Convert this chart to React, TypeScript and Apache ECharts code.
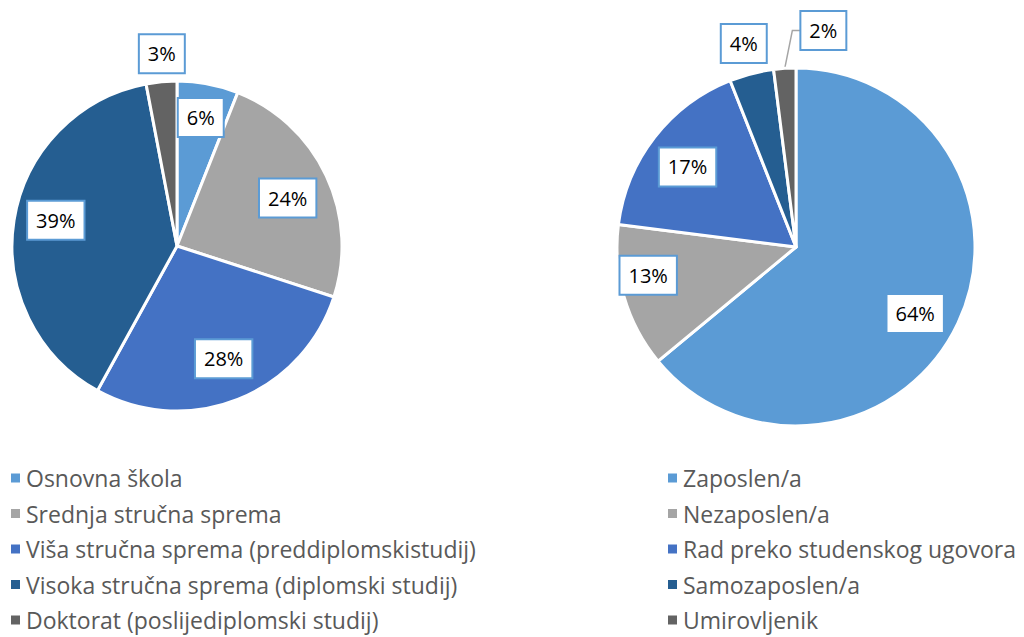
import React, { useEffect, useRef } from "react";
import * as echarts from "echarts";

const leftCategories = [
  "Osnovna škola",
  "Srednja stručna sprema",
  "Viša stručna sprema (preddiplomskistudij)",
  "Visoka stručna sprema (diplomski studij)",
  "Doktorat (poslijediplomski studij)",
];
const leftValues = [6, 24, 28, 39, 3];

const rightCategories = [
  "Zaposlen/a",
  "Nezaposlen/a",
  "Rad preko studenskog ugovora",
  "Samozaposlen/a",
  "Umirovljenik",
];
const rightValues = [64, 13, 17, 4, 2];

const palette = ["#5B9BD5", "#A5A5A5", "#4472C4", "#255E91", "#636363"];
const FONT = "'Open Sans', Lato, sans-serif";

const labelBox = {
  show: true,
  formatter: "{c}%",
  color: "#000",
  fontFamily: FONT,
  fontSize: 20,
  lineHeight: 25,
  backgroundColor: "#fff",
  borderColor: "#5B9BD5",
  borderWidth: 2,
  padding: [6, 8],
};

function visiblePie(names: string[], values: number[], center: number[], r: number) {
  return {
    type: "pie",
    center,
    radius: [0, r],
    startAngle: 90,
    clockwise: true,
    label: { show: false },
    labelLine: { show: false },
    itemStyle: { borderColor: "#fff", borderWidth: 3 },
    data: names.map((n, i) => ({ name: n, value: values[i], itemStyle: { color: palette[i] } })),
  };
}

export default function App() {
  const ref = useRef<HTMLDivElement>(null);
  useEffect(() => {
    if (!ref.current) return;
    const chart = echarts.init(ref.current, undefined, { renderer: "svg" });
    const leftR = 165;
    const rightR = 179;
    const leftLabelData = leftCategories.map((n, i) => {
      const d: any = { name: n, value: leftValues[i] };
      if (i === 4) {
        d.label = { position: "outside" };
        d.labelLine = { show: false, length: 28, length2: 0 };
      }
      return d;
    });
    const rightLabelData = rightCategories.map((n, i) => {
      const d: any = { name: n, value: rightValues[i] };
      if (i === 3) {
        d.label = { position: "outside" };
        d.labelLine = { show: false, length: 31, length2: 0 };
      }
      if (i === 4) {
        d.label = { position: "outside" };
        d.labelLine = { show: true, length: 38, length2: 0, lineStyle: { color: "#A5A5A5", width: 1.5 } };
      }
      return d;
    });
    const overlay = (data: any[], center: number[], r: number, layout: any) => ({
      type: "pie",
      center,
      radius: [r / 2, r],
      startAngle: 90,
      clockwise: true,
      silent: true,
      legendHoverLink: false,
      avoidLabelOverlap: false,
      itemStyle: { color: "rgba(0,0,0,0)", borderWidth: 0 },
      label: { ...labelBox, position: "inside" },
      labelLine: { show: false },
      labelLayout: layout,
      data,
    });
    const leftLayout = (p: any) => {
      if (p.dataIndex === 4) return { align: "center", dx: 8 };
      if (p.dataIndex === 3) return { dx: 4, dy: -6 };
      if (p.dataIndex === 2) return { dy: -5 };
      if (p.dataIndex === 1) return { dx: -4, dy: 6 };
      if (p.dataIndex === 0) return { dy: -4 };
      return {};
    };
    const rightLayout = (p: any) => {
      if (p.dataIndex === 1) return { dx: -16, dy: -10 };
      if (p.dataIndex === 0) return { dx: -5, dy: 8 };
      if (p.dataIndex === 2) return { dy: 4 };
      if (p.dataIndex === 3) return { align: "center", dx: 5 };
      if (p.dataIndex === 4) {
        const pts = p.labelLinePoints;
        const r = p.labelRect;
        if (pts && pts.length) {
          const end = pts[pts.length - 1];
          const bend = [end[0] + 10, end[1]];
          const newLeft = end[0] + 21;
          return {
            align: "left",
            dx: newLeft - (r.x + r.width),
            labelLinePoints: [pts[0], bend, [newLeft, end[1]]],
          };
        }
        return { align: "left", dx: 15 };
      }
      return {};
    };
    const legendCommon = {
      orient: "vertical",
      icon: "rect",
      itemWidth: 11,
      itemHeight: 11,
      itemGap: 11.5,
      padding: 0,
      textStyle: { fontFamily: FONT, fontSize: 23, color: "#595959", lineHeight: 24 },
      selectedMode: false,
    };
    chart.setOption({
      animation: false,
      backgroundColor: "#fff",
      legend: [
        { ...legendCommon, left: 9, top: 466, data: leftCategories },
        { ...legendCommon, left: 666, top: 466, data: rightCategories },
      ],
      series: [
        visiblePie(leftCategories, leftValues, [177, 246], leftR),
        visiblePie(rightCategories, rightValues, [796, 247], rightR),
        overlay(leftLabelData, [177, 246], leftR, leftLayout),
        overlay(rightLabelData, [796, 247], rightR, rightLayout),
      ],
    });
    return () => chart.dispose();
  }, []);
  return (
    <div
      ref={ref}
      style={{ position: "fixed", left: 0, top: 0, width: 1024, height: 637, background: "#fff" }}
    />
  );
}
